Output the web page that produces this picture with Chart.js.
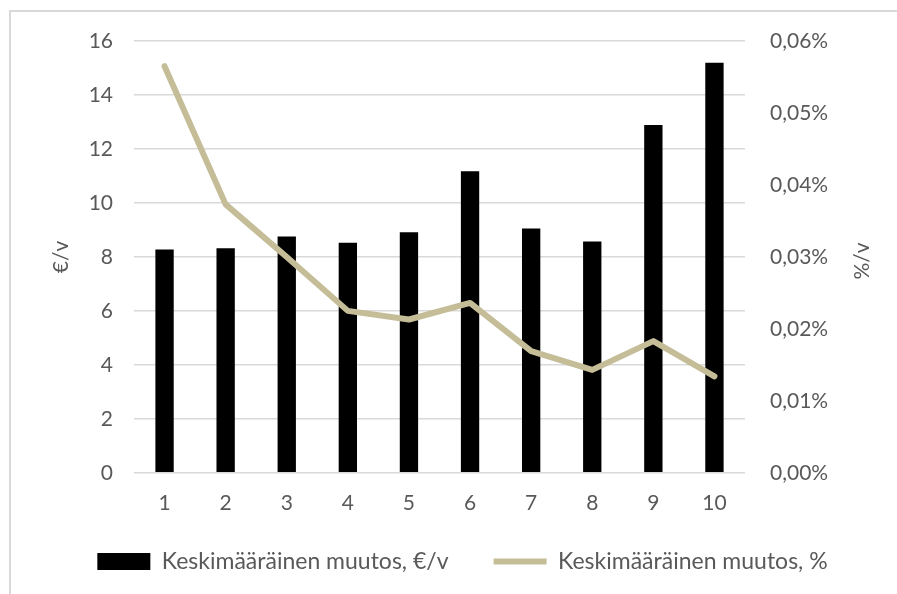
<!DOCTYPE html>
<html>
<head>
<meta charset="utf-8">
<script src="https://cdn.jsdelivr.net/npm/chart.js@4"></script>
<style>
  html, body { margin: 0; padding: 0; background: #fff; }
  #wrap { position: relative; width: 897px; height: 594px; }
  #frame { position: absolute; left: 9px; top: 10px; right: 0; bottom: 0;
           border-left: 2px solid #d9d9d9; border-top: 2px solid #d9d9d9; }
  canvas { position: absolute; left: 0; top: 0; }
</style>
</head>
<body>
<div id="wrap">
  <div id="frame"></div>
  <canvas id="kaavio" width="897" height="594"></canvas>
</div>
<script>
// luokat ja arvot
const luokat = ["1", "2", "3", "4", "5", "6", "7", "8", "9", "10"];
const muutosEuro = [8.27, 8.32, 8.76, 8.52, 8.91, 11.17, 9.05, 8.57, 12.89, 15.19];
const muutosPros = [0.0565, 0.0373, 0.0300, 0.0225, 0.0213, 0.0236, 0.0169, 0.0143, 0.0183, 0.0134];

const vasenTicks = [0, 2, 4, 6, 8, 10, 12, 14, 16];
const oikeaTicks = [0, 0.01, 0.02, 0.03, 0.04, 0.05, 0.06];
const oikeaOtsikko = "%/v";

const fontti = "Lato";
const harmaa = "#595959";
const ruskea = "#c4bd97";

// oikean akselin otsikko luetaan alhaalta ylös kuten Excelissä
const oikeaOtsikkoPlugin = {
  id: "oikeaOtsikko",
  afterLayout(chart) {
    // selite ylemmäs, lähemmäs x-akselia
    chart.legend.top -= 28;
    chart.legend.bottom -= 28;
  },
  afterDraw(chart) {
    const c = chart.ctx;
    const akseli = chart.scales.y2;
    c.save();
    c.translate(akseli.right - 19, (chart.chartArea.top + chart.chartArea.bottom) / 2 + 4);
    c.rotate(-Math.PI / 2);
    c.fillStyle = harmaa;
    c.font = "21px " + fontti;
    c.textAlign = "center";
    c.textBaseline = "middle";
    c.fillText(oikeaOtsikko, 0, 0);
    c.restore();
  }
};

const ctx = document.getElementById("kaavio").getContext("2d");

new Chart(ctx, {
  type: "bar",
  data: {
    labels: luokat,
    datasets: [
      {
        label: "Keskimääräinen muutos, €/v",
        data: muutosEuro,
        backgroundColor: "#000000",
        yAxisID: "y",
        barPercentage: 0.3,
        categoryPercentage: 1,
        order: 2
      },
      {
        type: "line",
        label: "Keskimääräinen muutos, %",
        data: muutosPros,
        borderColor: ruskea,
        backgroundColor: ruskea,
        borderWidth: 6,
        borderCapStyle: "round",
        borderJoinStyle: "round",
        pointRadius: 0,
        tension: 0,
        yAxisID: "y2",
        order: 1
      }
    ]
  },
  plugins: [oikeaOtsikkoPlugin],
  options: {
    responsive: false,
    animation: false,
    layout: { padding: { left: 44, right: 16, top: 41, bottom: -17 } },
    plugins: {
      tooltip: { enabled: false },
      legend: {
        position: "bottom",
        labels: {
          color: harmaa,
          font: { family: fontti, size: 23 },
          usePointStyle: true,
          pointStyleWidth: 53,
          boxHeight: 17,
          padding: 45,
          generateLabels: (chart) => chart.data.datasets.map((ds, i) => ({
            text: ds.label,
            datasetIndex: i,
            fillStyle: i === 0 ? "#000000" : ruskea,
            strokeStyle: i === 0 ? "#000000" : ruskea,
            lineWidth: i === 0 ? 0 : 6,
            pointStyle: i === 0 ? "rect" : "line",
            fontColor: harmaa
          }))
        }
      }
    },
    scales: {
      x: {
        grid: { display: false, drawTicks: false },
        border: { display: false },
        ticks: { color: harmaa, font: { family: fontti, size: 21 }, padding: 17.5 }
      },
      y: {
        position: "left",
        min: 0,
        max: 16,
        afterBuildTicks: (axis) => { axis.ticks = vasenTicks.map(v => ({ value: v })); },
        afterFit: (axis) => { axis.width = 90; },
        grid: { color: "#d9d9d9", lineWidth: 1.5, drawTicks: false },
        border: { display: false },
        ticks: { color: harmaa, font: { family: fontti, size: 21 }, padding: 21 },
        title: {
          display: true,
          text: "€/v",
          color: harmaa,
          font: { family: fontti, size: 21 },
          padding: { top: 5, bottom: 0 }
        }
      },
      y2: {
        position: "right",
        min: 0,
        max: 0.06,
        afterBuildTicks: (axis) => { axis.ticks = oikeaTicks.map(v => ({ value: v })); },
        afterFit: (axis) => { axis.width = 136; },
        grid: { display: false, drawTicks: false },
        border: { display: false },
        ticks: {
          color: harmaa,
          font: { family: fontti, size: 21 },
          padding: 25,
          callback: (v) => v.toFixed(2).replace(".", ",") + "%"
        }
      }
    }
  }
});
</script>
</body>
</html>
